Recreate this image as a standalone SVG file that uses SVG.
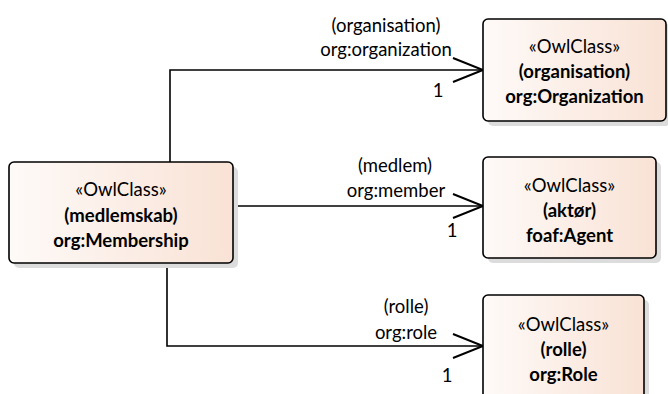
<svg xmlns="http://www.w3.org/2000/svg" width="668" height="394" viewBox="0 0 668 394">
<defs>
<linearGradient id="fill" x1="0" y1="0" x2="1" y2="0">
<stop offset="0" stop-color="#fefaf8"/>
<stop offset="1" stop-color="#f9e2d5"/>
</linearGradient>
<marker id="open" markerWidth="34" markerHeight="28" refX="31" refY="13" orient="auto" markerUnits="userSpaceOnUse">
<path d="M1,1 L31,13 L1,25" fill="none" stroke="#000" stroke-width="2"/>
</marker>
</defs>
<style>
.shadow{fill:#dcdcdc}
.box{fill:url(#fill);stroke:#000;stroke-width:1.6}
.t{font-family:Lato,"Liberation Sans",sans-serif;font-size:18.5px;fill:#000;text-anchor:middle}
.b{font-weight:bold}
.edge{fill:none;stroke:#000;stroke-width:1.6}
.lbl{font-family:Lato,"Liberation Sans",sans-serif;font-size:18.5px;fill:#000;text-anchor:middle}
</style>
<rect width="668" height="394" fill="#fff"/>
<g id="connectors">
<path class="edge" d="M170,162 V70 H483" marker-end="url(#open)"/>
<path class="edge" d="M233,206 H483" marker-end="url(#open)"/>
<path class="edge" d="M167,263 V346 H483" marker-end="url(#open)"/>
<text class="lbl" x="386" y="32">(organisation)</text>
<text class="lbl" x="386" y="56">org:organization</text>
<text class="lbl" x="438" y="97">1</text>
<text class="lbl" x="395" y="172">(medlem)</text>
<text class="lbl" x="396" y="197">org:member</text>
<text class="lbl" x="452" y="237">1</text>
<text class="lbl" x="406" y="313">(rolle)</text>
<text class="lbl" x="406" y="339">org:role</text>
<text class="lbl" x="447" y="382">1</text>
</g>
<g id="membership">
<rect class="shadow" x="14" y="167" width="224" height="101" rx="5"/>
<rect class="box" x="9" y="162" width="224" height="101" rx="5"/>
<text class="t" x="121" y="196">«OwlClass»</text>
<text class="t b" x="121" y="222">(medlemskab)</text>
<text class="t b" x="121" y="247">org:Membership</text>
</g>
<g id="organization">
<rect class="shadow" x="488" y="24" width="183" height="102" rx="5"/>
<rect class="box" x="483" y="19" width="183" height="102" rx="5"/>
<text class="t" x="574.5" y="53">«OwlClass»</text>
<text class="t b" x="574.5" y="78">(organisation)</text>
<text class="t b" x="574.5" y="103">org:Organization</text>
</g>
<g id="agent">
<rect class="shadow" x="488" y="162" width="173" height="101" rx="5"/>
<rect class="box" x="483" y="157" width="173" height="101" rx="5"/>
<text class="t" x="569.5" y="192">«OwlClass»</text>
<text class="t b" x="569.5" y="217">(aktør)</text>
<text class="t b" x="569.5" y="242">foaf:Agent</text>
</g>
<g id="role">
<rect class="shadow" x="488" y="300" width="161" height="110" rx="5"/>
<rect class="box" x="483" y="295" width="161" height="110" rx="5"/>
<text class="t" x="563.5" y="331">«OwlClass»</text>
<text class="t b" x="563.5" y="356">(rolle)</text>
<text class="t b" x="563.5" y="381">org:Role</text>
</g>
</svg>
